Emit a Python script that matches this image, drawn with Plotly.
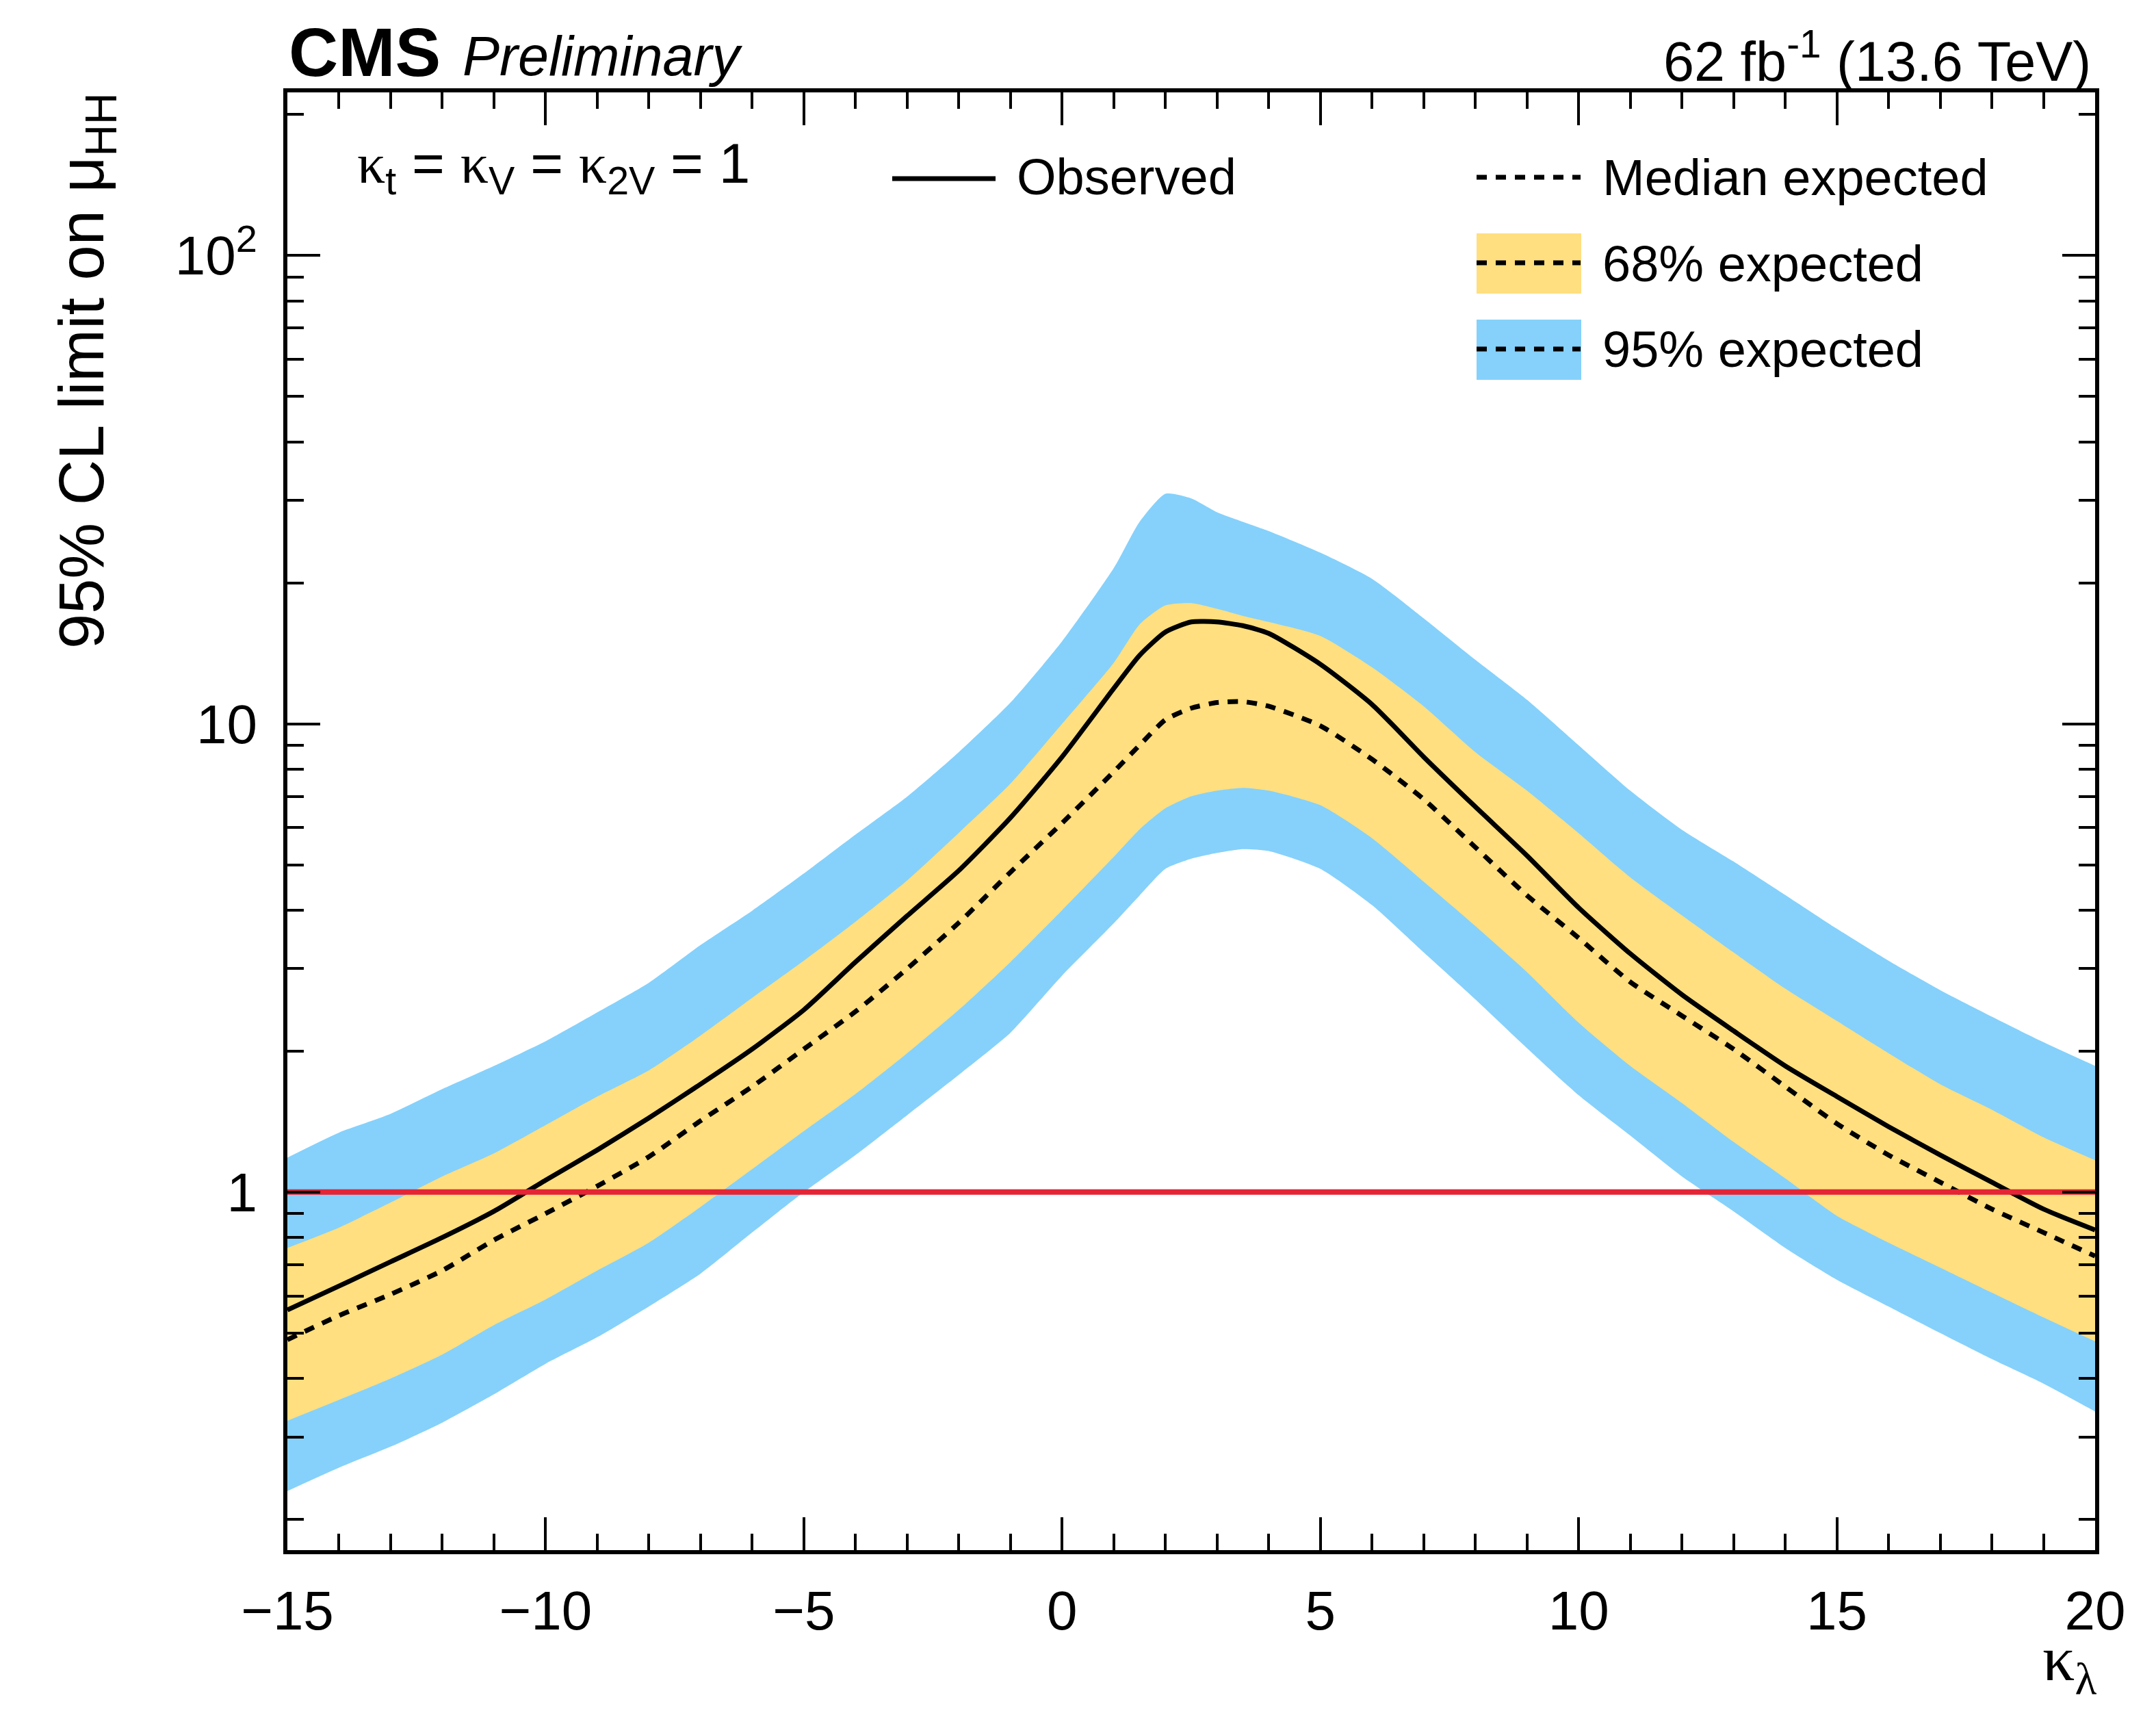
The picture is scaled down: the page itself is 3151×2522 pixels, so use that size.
import plotly.graph_objects as go

# kappa_lambda scan points
kl = [-15, -14, -13, -12, -11, -10, -9, -8, -7, -6, -5, -4, -3, -2, -1, 0, 1,
      1.5, 2, 2.5, 3, 3.5, 4,
      5, 6, 7, 8, 9, 10, 11, 12, 13, 14, 15, 16, 17, 18, 19, 20]

observed = [0.56, 0.63, 0.71, 0.80, 0.91, 1.06, 1.23, 1.44, 1.70, 2.02, 2.45, 3.10, 3.89, 4.86, 6.30, 8.50, 11.9,
            14.0, 15.7, 16.5, 16.5, 16.2, 15.6,
            13.4, 11.0, 8.5, 6.65, 5.23, 4.05, 3.23, 2.64, 2.21, 1.86, 1.60, 1.38, 1.20, 1.05, 0.92, 0.83]

median = [0.484, 0.545, 0.605, 0.68, 0.79, 0.90, 1.03, 1.19, 1.42, 1.68, 2.02, 2.43, 3.00, 3.76, 4.82, 6.14, 7.9,
          9.0, 10.2, 10.8, 11.1, 11.15, 10.9,
          9.9, 8.4, 6.9, 5.45, 4.3, 3.49, 2.81, 2.38, 2.02, 1.68, 1.40, 1.20, 1.05, 0.92, 0.82, 0.73]

exp68_up = [0.76, 0.84, 0.95, 1.08, 1.21, 1.39, 1.60, 1.82, 2.16, 2.60, 3.12, 3.78, 4.63, 5.85, 7.45, 10.0, 13.5,
            16.3, 17.9, 18.1, 17.6, 17.0, 16.5,
            15.4, 13.2, 10.9, 8.7, 7.2, 5.84, 4.7, 3.9, 3.25, 2.72, 2.32, 1.98, 1.70, 1.50, 1.31, 1.17]

exp68_down = [0.325, 0.36, 0.40, 0.45, 0.52, 0.59, 0.68, 0.78, 0.93, 1.12, 1.35, 1.62, 1.98, 2.45, 3.1, 4.0, 5.2,
              5.95, 6.6, 7.0, 7.2, 7.3, 7.2,
              6.7, 5.7, 4.6, 3.7, 2.95, 2.3, 1.86, 1.55, 1.28, 1.07, 0.89, 0.78, 0.69, 0.61, 0.54, 0.48]

exp95_up = [1.185, 1.34, 1.47, 1.66, 1.86, 2.10, 2.42, 2.80, 3.37, 3.99, 4.79, 5.8, 6.99, 8.7, 11.1, 15.0, 21.5,
            27.0, 31.0, 30.3, 28.3, 27.0, 25.8,
            23.2, 20.4, 16.8, 13.7, 11.25, 9.0, 7.2, 5.94, 5.08, 4.31, 3.65, 3.12, 2.70, 2.37, 2.09, 1.86]

exp95_down = [0.23, 0.258, 0.286, 0.322, 0.37, 0.43, 0.49, 0.57, 0.67, 0.82, 1.0, 1.20, 1.46, 1.78, 2.19, 2.9, 3.75,
              4.3, 4.9, 5.15, 5.3, 5.4, 5.35,
              4.9, 4.1, 3.25, 2.58, 2.03, 1.61, 1.32, 1.08, 0.91, 0.76, 0.65, 0.57, 0.50, 0.44, 0.39, 0.34]

sm_line = 1.0   # SM reference mu = 1

x_range = [-15, 20]
y_ticks = [1, 10, 100]
y_ticktext = ["1", "10", "10<sup>2</sup>"]

YELLOW = "#FFDF7F"
BLUE = "#85D1FB"
RED = "#E42536"
SANS = "Liberation Sans, Arial, Helvetica, sans-serif"
SERIF = "Liberation Serif, Times New Roman, serif"

W, H = 3151, 2522
L, R, T, B = 412, 3054, 127, 2257  # frame in pixels


def px(x):
    return (x - L) / (R - L)


def py(y):
    return (B - y) / (B - T)


SPL = dict(shape="spline", smoothing=0.6)

fig = go.Figure()

# 95% band
fig.add_trace(go.Scatter(x=kl, y=exp95_down, mode="lines", line=dict(width=0, **SPL),
                         showlegend=False, hoverinfo="skip"))
fig.add_trace(go.Scatter(x=kl, y=exp95_up, mode="lines", line=dict(width=0, **SPL),
                         fill="tonexty", fillcolor=BLUE, showlegend=False, hoverinfo="skip"))
# 68% band
fig.add_trace(go.Scatter(x=kl, y=exp68_down, mode="lines", line=dict(width=0, **SPL),
                         showlegend=False, hoverinfo="skip"))
fig.add_trace(go.Scatter(x=kl, y=exp68_up, mode="lines", line=dict(width=0, **SPL),
                         fill="tonexty", fillcolor=YELLOW, showlegend=False, hoverinfo="skip"))

fig.add_trace(go.Scatter(x=kl, y=median, mode="lines",
                         line=dict(color="black", width=7, dash="15px,13px", **SPL), showlegend=False))
fig.add_trace(go.Scatter(x=kl, y=observed, mode="lines",
                         line=dict(color="black", width=7, **SPL), showlegend=False))
fig.add_trace(go.Scatter(x=x_range, y=[sm_line, sm_line], mode="lines",
                         line=dict(color=RED, width=8), showlegend=False))

y_minor = [m * 10 ** e for e in (-1, 0, 1) for m in range(2, 10)] + [200]

axis_common = dict(showline=True, linewidth=6, linecolor="black", mirror="ticks",
                   ticks="inside", ticklen=48, tickwidth=4, tickcolor="black",
                   showgrid=False, zeroline=False,
                   tickfont=dict(family=SANS, size=80, color="black"))

fig.update_xaxes(range=x_range, dtick=5, tick0=0, ticklabelstandoff=14,
                 minor=dict(dtick=1, ticks="inside", ticklen=24, tickwidth=4,
                            tickcolor="black", showgrid=False),
                 **axis_common)
fig.update_yaxes(type="log", range=[-0.7645, 2.3483], tickmode="array",
                 tickvals=y_ticks, ticktext=y_ticktext, ticklabelstandoff=22,
                 minor=dict(tickmode="array", tickvals=y_minor, ticks="inside",
                            ticklen=24, tickwidth=4, tickcolor="black", showgrid=False),
                 **axis_common)

ann = []


def text(x, y, s, size, xanchor="left", family=SANS, **kw):
    ann.append(dict(x=px(x), y=py(y), xref="paper", yref="paper", text=s,
                    showarrow=False, xanchor=xanchor, yanchor="middle",
                    font=dict(family=family, size=size, color="black"), **kw))


text(412, 68, "<b>CMS</b>", 100)
text(666, 74, "<i>Preliminary</i>", 81)
text(3050, 76, "62 fb<sup>-1</sup> (13.6 TeV)", 81, xanchor="right")

kap = "<span style='font-family:Liberation Serif'>κ</span>"
text(512, 236, f"{kap}<sub>t</sub> = {kap}<sub>V</sub> = {kap}<sub>2V</sub> = 1", 82)

# legend
text(1476, 250, "Observed", 74)
text(2332, 252, "Median expected", 74)
text(2332, 377, "68% expected", 74)
text(2332, 503, "95% expected", 74)

# axis titles
ann.append(dict(x=px(3058), y=py(2422), xref="paper", yref="paper",
                text="κ<sub>λ</sub>", showarrow=False, xanchor="right", yanchor="middle",
                font=dict(family=SERIF, size=94, color="black")))
ann.append(dict(x=px(118), y=py(126), xref="paper", yref="paper",
                text="95% CL limit on μ<sub>HH</sub>", textangle=-90, showarrow=False,
                xanchor="center", yanchor="top",
                font=dict(family=SANS, size=92, color="black")))

dash_leg = dict(color="black", width=7, dash="15px,13px")
shapes = [
    dict(type="line", xref="paper", yref="paper", x0=px(1296), x1=px(1447), y0=py(253), y1=py(253),
         line=dict(color="black", width=7)),
    dict(type="line", xref="paper", yref="paper", x0=px(2150), x1=px(2302), y0=py(251), y1=py(251),
         line=dash_leg),
    dict(type="rect", xref="paper", yref="paper", x0=px(2150), x1=px(2303), y0=py(333), y1=py(421),
         fillcolor=YELLOW, line=dict(width=0)),
    dict(type="line", xref="paper", yref="paper", x0=px(2150), x1=px(2302), y0=py(376), y1=py(376),
         line=dash_leg),
    dict(type="rect", xref="paper", yref="paper", x0=px(2150), x1=px(2303), y0=py(459), y1=py(547),
         fillcolor=BLUE, line=dict(width=0)),
    dict(type="line", xref="paper", yref="paper", x0=px(2150), x1=px(2302), y0=py(502), y1=py(502),
         line=dash_leg),
]

fig.update_layout(width=W, height=H, margin=dict(l=L, r=W - R, t=T, b=H - B),
                  plot_bgcolor="white", paper_bgcolor="white",
                  annotations=ann, shapes=shapes, showlegend=False)

fig.write_html("out.html")
